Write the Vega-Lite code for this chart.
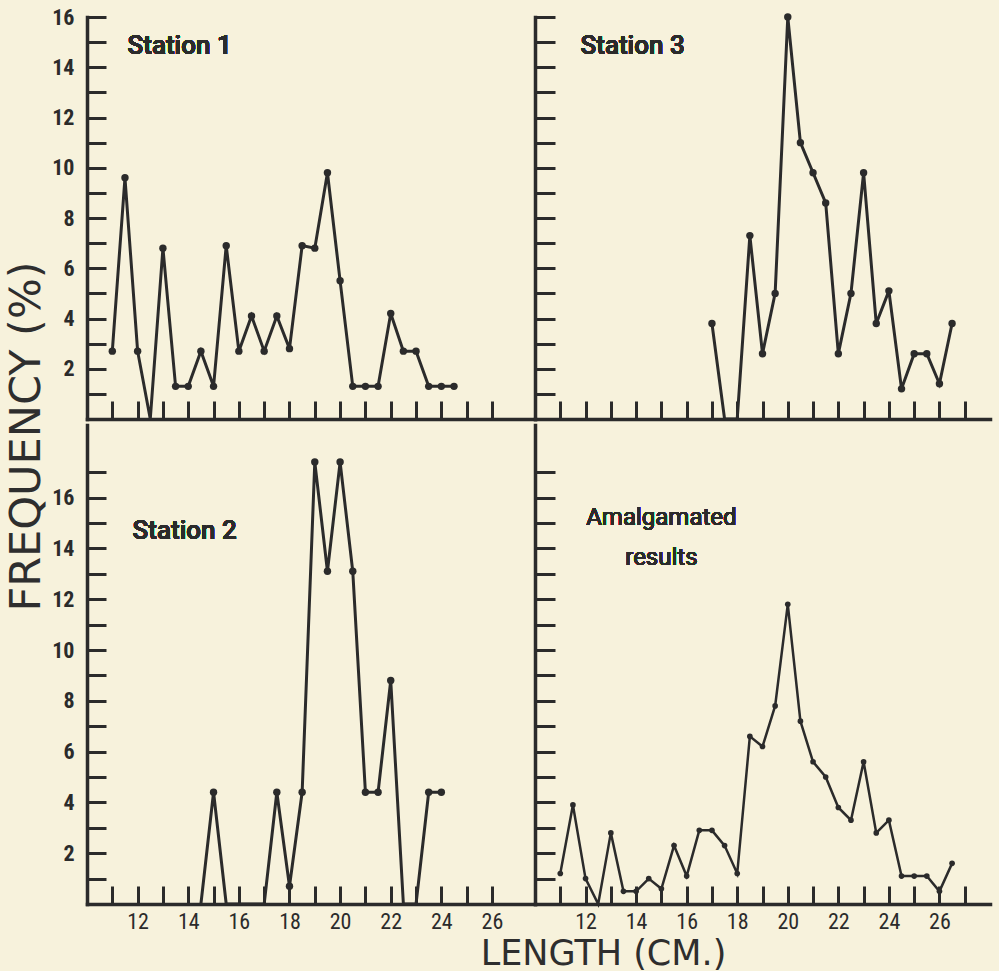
{
  "$schema": "https://vega.github.io/schema/vega-lite/v6.json",
  "background": "#f7f2dc",
  "padding": {"left": 5, "top": 6, "right": 11, "bottom": 0},
  "spacing": 0,
  "title": {"text": "FREQUENCY (%)", "orient": "left", "anchor": "middle", "fontSize": 43, "fontWeight": "normal", "font": "DejaVu Sans", "color": "#2e2e2e", "offset": 3, "dx": 52},
  "config": {
    "view": {"stroke": null},
    "axis": {"grid": false, "tickCount": 100, "format": "d", "domainColor": "#2b2b2b", "domainWidth": 3.5, "domainCap": "square", "tickColor": "#2b2b2b", "tickWidth": 3, "labelColor": "#2b2b2b", "labelOverlap": false, "labelFlush": false, "titleColor": "#2e2e2e"},
    "line": {"color": "#2b2b2b"},
    "point": {"color": "#2b2b2b"},
    "text": {"color": "#2b2b2b"}
  },
  "datasets": {
    "s1": [{"len":11,"f":2.7},{"len":11.5,"f":9.6},{"len":12,"f":2.7},{"len":12.5,"f":0},{"len":13,"f":6.8},{"len":13.5,"f":1.3},{"len":14,"f":1.3},{"len":14.5,"f":2.7},{"len":15,"f":1.3},{"len":15.5,"f":6.9},{"len":16,"f":2.7},{"len":16.5,"f":4.1},{"len":17,"f":2.7},{"len":17.5,"f":4.1},{"len":18,"f":2.8},{"len":18.5,"f":6.9},{"len":19,"f":6.8},{"len":19.5,"f":9.8},{"len":20,"f":5.5},{"len":20.5,"f":1.3},{"len":21,"f":1.3},{"len":21.5,"f":1.3},{"len":22,"f":4.2},{"len":22.5,"f":2.7},{"len":23,"f":2.7},{"len":23.5,"f":1.3},{"len":24,"f":1.3},{"len":24.5,"f":1.3}],
    "s2": [{"len":14.5,"f":0},{"len":15,"f":4.4},{"len":15.5,"f":0},{"len":17,"f":0},{"len":17.5,"f":4.4},{"len":18,"f":0.7},{"len":18.5,"f":4.4},{"len":19,"f":17.4},{"len":19.5,"f":13.1},{"len":20,"f":17.4},{"len":20.5,"f":13.1},{"len":21,"f":4.4},{"len":21.5,"f":4.4},{"len":22,"f":8.8},{"len":22.5,"f":0},{"len":23,"f":0},{"len":23.5,"f":4.4},{"len":24,"f":4.4}],
    "s3": [{"len":17,"f":3.8},{"len":17.5,"f":0},{"len":18,"f":0},{"len":18.5,"f":7.3},{"len":19,"f":2.6},{"len":19.5,"f":5.0},{"len":20,"f":16.0},{"len":20.5,"f":11.0},{"len":21,"f":9.8},{"len":21.5,"f":8.6},{"len":22,"f":2.6},{"len":22.5,"f":5.0},{"len":23,"f":9.8},{"len":23.5,"f":3.8},{"len":24,"f":5.1},{"len":24.5,"f":1.2},{"len":25,"f":2.6},{"len":25.5,"f":2.6},{"len":26,"f":1.4},{"len":26.5,"f":3.8}],
    "am": [{"len":11,"f":1.2},{"len":11.5,"f":3.9},{"len":12,"f":1.0},{"len":12.5,"f":0},{"len":13,"f":2.8},{"len":13.5,"f":0.5},{"len":14,"f":0.5},{"len":14.5,"f":1.0},{"len":15,"f":0.6},{"len":15.5,"f":2.3},{"len":16,"f":1.1},{"len":16.5,"f":2.9},{"len":17,"f":2.9},{"len":17.5,"f":2.3},{"len":18,"f":1.2},{"len":18.5,"f":6.6},{"len":19,"f":6.2},{"len":19.5,"f":7.8},{"len":20,"f":11.8},{"len":20.5,"f":7.2},{"len":21,"f":5.6},{"len":21.5,"f":5.0},{"len":22,"f":3.8},{"len":22.5,"f":3.3},{"len":23,"f":5.6},{"len":23.5,"f":2.8},{"len":24,"f":3.3},{"len":24.5,"f":1.1},{"len":25,"f":1.1},{"len":25.5,"f":1.1},{"len":26,"f":0.5},{"len":26.5,"f":1.6}]
  },
  "vconcat": [
    {
      "spacing": 0,
      "bounds": "flush",
      "hconcat": [
        {
          "width": 448, "height": 402,
          "data": {"name": "s1"},
          "layer": [
            {"mark": {"type": "line", "strokeWidth": 3},
             "encoding": {
               "x": {"field": "len", "type": "quantitative", "scale": {"domain": [10, 27.7], "nice": false, "zero": false},
                     "axis": {"values": [11,12,13,14,15,16,17,18,19,20,21,22,23,24,25,26], "tickCount": 100, "labels": false, "tickSize": -18, "title": null}},
               "y": {"field": "f", "type": "quantitative", "scale": {"domain": [0, 16], "nice": false},
                     "axis": {"values": [1,2,3,4,5,6,7,8,9,10,11,12,13,14,15,16], "tickCount": 100, "format": "d", "tickSize": -19, "labelPadding": 32, "labelFont": "Liberation Sans Narrow, Roboto Condensed, Roboto", "labelFontSize": 22, "labelFontWeight": "bold", "labelOverlap": false, "labelExpr": "datum.value % 2 == 0 ? datum.label : ''", "title": null}}}},
            {"transform": [{"filter": "datum.f > 0"}], "mark": {"type": "point", "filled": true, "size": 55, "opacity": 1},
             "encoding": {"x": {"field": "len", "type": "quantitative"}, "y": {"field": "f", "type": "quantitative"}}},
            {"mark": {"type": "text", "text": "Station 1", "font": "Roboto", "fontSize": 26, "fontWeight": 500, "align": "left", "baseline": "middle"},
             "encoding": {"x": {"datum": 11.6}, "y": {"datum": 14.85}}}
          ]
        },
        {
          "width": 455, "height": 402,
          "data": {"name": "s3"},
          "layer": [
            {"mark": {"type": "line", "strokeWidth": 3},
             "encoding": {
               "x": {"field": "len", "type": "quantitative", "scale": {"domain": [10, 28], "nice": false, "zero": false},
                     "axis": {"values": [11,12,13,14,15,16,17,18,19,20,21,22,23,24,25,26,27], "tickCount": 100, "labels": false, "tickSize": -18, "title": null}},
               "y": {"field": "f", "type": "quantitative", "scale": {"domain": [0, 16], "nice": false},
                     "axis": {"values": [1,2,3,4,5,6,7,8,9,10,11,12,13,14,15,16], "tickCount": 100, "tickSize": -20, "labels": false, "title": null}}}},
            {"transform": [{"filter": "datum.f > 0"}], "mark": {"type": "point", "filled": true, "size": 55, "opacity": 1},
             "encoding": {"x": {"field": "len", "type": "quantitative"}, "y": {"field": "f", "type": "quantitative"}}},
            {"mark": {"type": "text", "text": "Station 3", "font": "Roboto", "fontSize": 26, "fontWeight": 500, "align": "left", "baseline": "middle"},
             "encoding": {"x": {"datum": 11.8}, "y": {"datum": 14.85}}}
          ]
        }
      ]
    },
    {
      "spacing": 0,
      "bounds": "flush",
      "hconcat": [
        {
          "width": 448, "height": 479,
          "data": {"name": "s2"},
          "layer": [
            {"mark": {"type": "line", "strokeWidth": 3},
             "encoding": {
               "x": {"field": "len", "type": "quantitative", "scale": {"domain": [10, 27.7], "nice": false, "zero": false},
                     "axis": {"values": [11,12,13,14,15,16,17,18,19,20,21,22,23,24,25,26], "tickCount": 100, "format": "d", "tickSize": -18, "labelPadding": 25, "labelFont": "Liberation Sans Narrow, Roboto Condensed, Roboto", "labelFontSize": 22, "labelOverlap": false, "labelExpr": "datum.value % 2 == 0 ? datum.label : ''", "title": null}},
               "y": {"field": "f", "type": "quantitative", "scale": {"domain": [0, 18.86], "nice": false},
                     "axis": {"values": [1,2,3,4,5,6,7,8,9,10,11,12,13,14,15,16,17], "tickCount": 100, "format": "d", "tickSize": -19, "labelPadding": 32, "labelFont": "Liberation Sans Narrow, Roboto Condensed, Roboto", "labelFontSize": 22, "labelFontWeight": "bold", "labelOverlap": false, "labelExpr": "datum.value % 2 == 0 && datum.value <= 16 ? datum.label : ''", "title": null}}}},
            {"transform": [{"filter": "datum.f > 0"}], "mark": {"type": "point", "filled": true, "size": 55, "opacity": 1},
             "encoding": {"x": {"field": "len", "type": "quantitative"}, "y": {"field": "f", "type": "quantitative"}}},
            {"mark": {"type": "text", "text": "Station 2", "font": "Roboto", "fontSize": 26, "fontWeight": 500, "align": "left", "baseline": "middle"},
             "encoding": {"x": {"datum": 11.8}, "y": {"datum": 14.7}}}
          ]
        },
        {
          "width": 455, "height": 479,
          "data": {"name": "am"},
          "layer": [
            {"mark": {"type": "line", "strokeWidth": 2.5},
             "encoding": {
               "x": {"field": "len", "type": "quantitative", "scale": {"domain": [10, 28], "nice": false, "zero": false},
                     "axis": {"values": [11,12,13,14,15,16,17,18,19,20,21,22,23,24,25,26,27], "tickCount": 100, "format": "d", "tickSize": -18, "labelPadding": 25, "labelFont": "Liberation Sans Narrow, Roboto Condensed, Roboto", "labelFontSize": 22, "labelOverlap": false, "labelExpr": "datum.value % 2 == 0 ? datum.label : ''",
                              "title": "LENGTH (CM.)", "titleFont": "DejaVu Sans", "titleFontSize": 35, "titleFontWeight": "normal", "titleX": 68, "titleY": 49, "titleBaseline": "middle", "titleAlign": "center"}},
               "y": {"field": "f", "type": "quantitative", "scale": {"domain": [0, 18.86], "nice": false},
                     "axis": {"values": [1,2,3,4,5,6,7,8,9,10,11,12,13,14,15,16,17], "tickCount": 100, "tickSize": -20, "labels": false, "title": null}}}},
            {"transform": [{"filter": "datum.f > 0"}], "mark": {"type": "point", "filled": true, "size": 32, "opacity": 1},
             "encoding": {"x": {"field": "len", "type": "quantitative"}, "y": {"field": "f", "type": "quantitative"}}},
            {"mark": {"type": "text", "text": ["Amalgamated", "results"], "font": "Roboto", "fontSize": 24, "fontWeight": "normal", "align": "center", "baseline": "middle", "lineHeight": 40},
             "encoding": {"x": {"datum": 15.0}, "y": {"datum": 15.2}}}
          ]
        }
      ]
    }
  ]
}
